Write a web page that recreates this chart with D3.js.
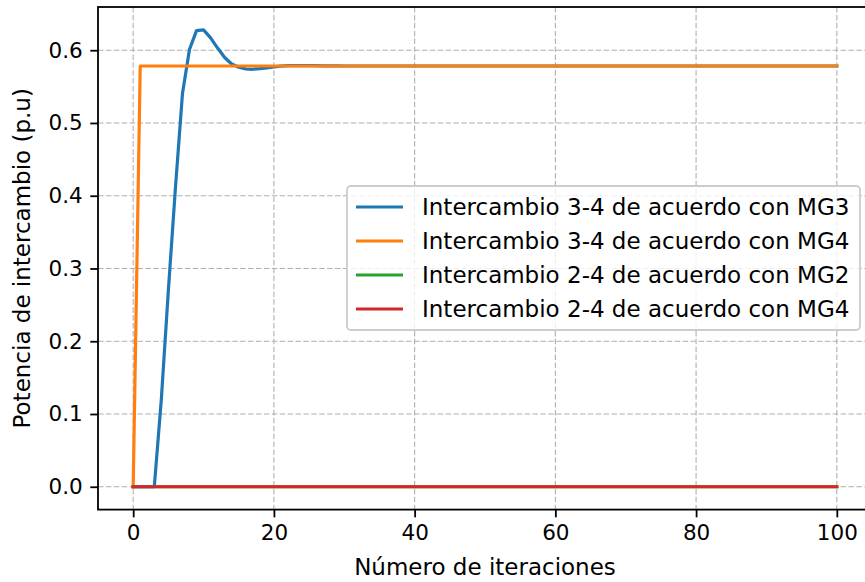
<!DOCTYPE html>
<html>
<head>
<meta charset="utf-8">
<script src="https://cdn.jsdelivr.net/npm/d3@7"></script>
<style>
  html, body { margin: 0; padding: 0; background: #fff; }
  svg { display: block; font-family: "DejaVu Sans", sans-serif; }
</style>
</head>
<body>
<svg id="chart" width="865" height="582"></svg>
<script>
// Iteration index 0..100
const iterations = d3.range(0, 101);

// Intercambio 3-4 según MG3
const mg3Exchange34 = [
  0, 0, 0, 0, 0.12, 0.27, 0.41, 0.54, 0.601, 0.627,
  0.628, 0.617, 0.603, 0.590, 0.581, 0.5765, 0.5742, 0.5738, 0.5746, 0.5758,
  0.5771, 0.5781, 0.5787, 0.5789, 0.5789, 0.5788, 0.5787, 0.5785, 0.5784, 0.5784,
  0.5783, 0.5783, 0.5783, 0.5783, 0.5783, 0.5783, 0.5783, 0.5783, 0.5783, 0.5783,
  0.5783, 0.5783, 0.5783, 0.5783, 0.5783, 0.5783, 0.5783, 0.5783, 0.5783, 0.5783,
  0.5783, 0.5783, 0.5783, 0.5783, 0.5783, 0.5783, 0.5783, 0.5783, 0.5783, 0.5783,
  0.5783, 0.5783, 0.5783, 0.5783, 0.5783, 0.5783, 0.5783, 0.5783, 0.5783, 0.5783,
  0.5783, 0.5783, 0.5783, 0.5783, 0.5783, 0.5783, 0.5783, 0.5783, 0.5783, 0.5783,
  0.5783, 0.5783, 0.5783, 0.5783, 0.5783, 0.5783, 0.5783, 0.5783, 0.5783, 0.5783,
  0.5783, 0.5783, 0.5783, 0.5783, 0.5783, 0.5783, 0.5783, 0.5783, 0.5783, 0.5783,
  0.5783
];

// Intercambio 3-4 según MG4
const mg4Exchange34 = [
  0, 0.5783, 0.5783, 0.5783, 0.5783, 0.5783, 0.5783, 0.5783, 0.5783, 0.5783,
  0.5783, 0.5783, 0.5783, 0.5783, 0.5783, 0.5783, 0.5783, 0.5783, 0.5783, 0.5783,
  0.5783, 0.5783, 0.5783, 0.5783, 0.5783, 0.5783, 0.5783, 0.5783, 0.5783, 0.5783,
  0.5783, 0.5783, 0.5783, 0.5783, 0.5783, 0.5783, 0.5783, 0.5783, 0.5783, 0.5783,
  0.5783, 0.5783, 0.5783, 0.5783, 0.5783, 0.5783, 0.5783, 0.5783, 0.5783, 0.5783,
  0.5783, 0.5783, 0.5783, 0.5783, 0.5783, 0.5783, 0.5783, 0.5783, 0.5783, 0.5783,
  0.5783, 0.5783, 0.5783, 0.5783, 0.5783, 0.5783, 0.5783, 0.5783, 0.5783, 0.5783,
  0.5783, 0.5783, 0.5783, 0.5783, 0.5783, 0.5783, 0.5783, 0.5783, 0.5783, 0.5783,
  0.5783, 0.5783, 0.5783, 0.5783, 0.5783, 0.5783, 0.5783, 0.5783, 0.5783, 0.5783,
  0.5783, 0.5783, 0.5783, 0.5783, 0.5783, 0.5783, 0.5783, 0.5783, 0.5783, 0.5783,
  0.5783
];

// Intercambio 2-4 según MG2
const mg2Exchange24 = [
  0, 0, 0, 0, 0, 0, 0, 0, 0, 0,
  0, 0, 0, 0, 0, 0, 0, 0, 0, 0,
  0, 0, 0, 0, 0, 0, 0, 0, 0, 0,
  0, 0, 0, 0, 0, 0, 0, 0, 0, 0,
  0, 0, 0, 0, 0, 0, 0, 0, 0, 0,
  0, 0, 0, 0, 0, 0, 0, 0, 0, 0,
  0, 0, 0, 0, 0, 0, 0, 0, 0, 0,
  0, 0, 0, 0, 0, 0, 0, 0, 0, 0,
  0, 0, 0, 0, 0, 0, 0, 0, 0, 0,
  0, 0, 0, 0, 0, 0, 0, 0, 0, 0,
  0
];

// Intercambio 2-4 según MG4
const mg4Exchange24 = [
  0, 0, 0, 0, 0, 0, 0, 0, 0, 0,
  0, 0, 0, 0, 0, 0, 0, 0, 0, 0,
  0, 0, 0, 0, 0, 0, 0, 0, 0, 0,
  0, 0, 0, 0, 0, 0, 0, 0, 0, 0,
  0, 0, 0, 0, 0, 0, 0, 0, 0, 0,
  0, 0, 0, 0, 0, 0, 0, 0, 0, 0,
  0, 0, 0, 0, 0, 0, 0, 0, 0, 0,
  0, 0, 0, 0, 0, 0, 0, 0, 0, 0,
  0, 0, 0, 0, 0, 0, 0, 0, 0, 0,
  0, 0, 0, 0, 0, 0, 0, 0, 0, 0,
  0
];

const seriesLabels = [
  "Intercambio 3-4 de acuerdo con MG3",
  "Intercambio 3-4 de acuerdo con MG4",
  "Intercambio 2-4 de acuerdo con MG2",
  "Intercambio 2-4 de acuerdo con MG4"
];
const seriesColors = ["#1f77b4", "#ff7f0e", "#2ca02c", "#d62728"];
const seriesValues = [mg3Exchange34, mg4Exchange34, mg2Exchange24, mg4Exchange24];

const xTicks = [0, 20, 40, 60, 80, 100];
const yTicks = [0.0, 0.1, 0.2, 0.3, 0.4, 0.5, 0.6];

const xLabel = "Número de iteraciones";
const yLabel = "Potencia de intercambio (p.u)";

// Layout
const plot = { left: 98, top: 7, right: 872, bottom: 509.6 };
const tickFont = 21.5;
const labelFont = 23;

const svg = d3.select("#chart");

const allValues = seriesValues.flat();
const yMin = d3.min(allValues), yMax = d3.max(allValues);
const xMin = d3.min(iterations), xMax = d3.max(iterations);
const xPad = (xMax - xMin) * 0.05, yPad = (yMax - yMin) * 0.05;

const x = d3.scaleLinear().domain([xMin - xPad, xMax + xPad]).range([plot.left, plot.right]);
const y = d3.scaleLinear().domain([yMin - yPad, yMax + yPad]).range([plot.bottom, plot.top]);

// Grid
const grid = svg.append("g").attr("stroke", "#b0b0b0").attr("stroke-width", 1.1)
  .attr("stroke-dasharray", "5.5,2.4");
grid.selectAll(".gx").data(xTicks).join("line")
  .attr("x1", d => x(d)).attr("x2", d => x(d))
  .attr("y1", plot.top).attr("y2", plot.bottom);
grid.selectAll(".gy").data(yTicks).join("line")
  .attr("x1", plot.left).attr("x2", plot.right)
  .attr("y1", d => y(d)).attr("y2", d => y(d));

// Series
svg.append("clipPath").attr("id", "plotclip")
  .append("rect").attr("x", plot.left).attr("y", plot.top)
  .attr("width", plot.right - plot.left).attr("height", plot.bottom - plot.top);

const line = d3.line().x((d, i) => x(iterations[i])).y(d => y(d));
const lines = svg.append("g").attr("clip-path", "url(#plotclip)");
seriesValues.forEach((vals, k) => {
  lines.append("path")
    .datum(vals)
    .attr("d", line)
    .attr("fill", "none")
    .attr("stroke", seriesColors[k])
    .attr("stroke-width", 3.2)
    .attr("stroke-linejoin", "round")
    .attr("stroke-linecap", "square");
});

// Axes
const xAxis = d3.axisBottom(x).tickValues(xTicks).tickFormat(d3.format("d"))
  .tickSize(7.7).tickPadding(7.5);
const yAxis = d3.axisLeft(y).tickValues(yTicks).tickFormat(d3.format(".1f"))
  .tickSize(7.7).tickPadding(7.5);

const gx = svg.append("g").attr("transform", `translate(0,${plot.bottom})`).call(xAxis);
const gy = svg.append("g").attr("transform", `translate(${plot.left},0)`).call(yAxis);
[gx, gy].forEach(g => {
  g.select(".domain").remove();
  g.selectAll(".tick line").attr("stroke", "#000").attr("stroke-width", 1.8);
  g.selectAll(".tick text").attr("fill", "#000")
    .attr("font-family", "DejaVu Sans").attr("font-size", tickFont);
});

// Frame
svg.append("rect")
  .attr("x", plot.left).attr("y", plot.top)
  .attr("width", plot.right - plot.left).attr("height", plot.bottom - plot.top)
  .attr("fill", "none").attr("stroke", "#000").attr("stroke-width", 1.8);

// Axis titles
svg.append("text")
  .attr("x", 485).attr("y", 575)
  .attr("text-anchor", "middle").attr("font-size", labelFont)
  .text(xLabel);
svg.append("text")
  .attr("transform", `translate(30,${(plot.top + plot.bottom) / 2}) rotate(-90)`)
  .attr("text-anchor", "middle").attr("font-size", labelFont)
  .text(yLabel);

// Legend
const legend = svg.append("g").attr("transform", "translate(347,186)");
legend.append("rect")
  .attr("width", 513).attr("height", 144).attr("rx", 4)
  .attr("fill", "#fff").attr("fill-opacity", 0.8)
  .attr("stroke", "#cccccc").attr("stroke-width", 1.8);
seriesLabels.forEach((lab, k) => {
  const cy = 21 + k * 34;
  legend.append("line")
    .attr("x1", 9).attr("x2", 56).attr("y1", cy).attr("y2", cy)
    .attr("stroke", seriesColors[k]).attr("stroke-width", 3.2);
  legend.append("text")
    .attr("x", 75).attr("y", cy).attr("dy", "0.36em")
    .attr("font-size", labelFont).text(lab);
});
</script>
</body>
</html>
